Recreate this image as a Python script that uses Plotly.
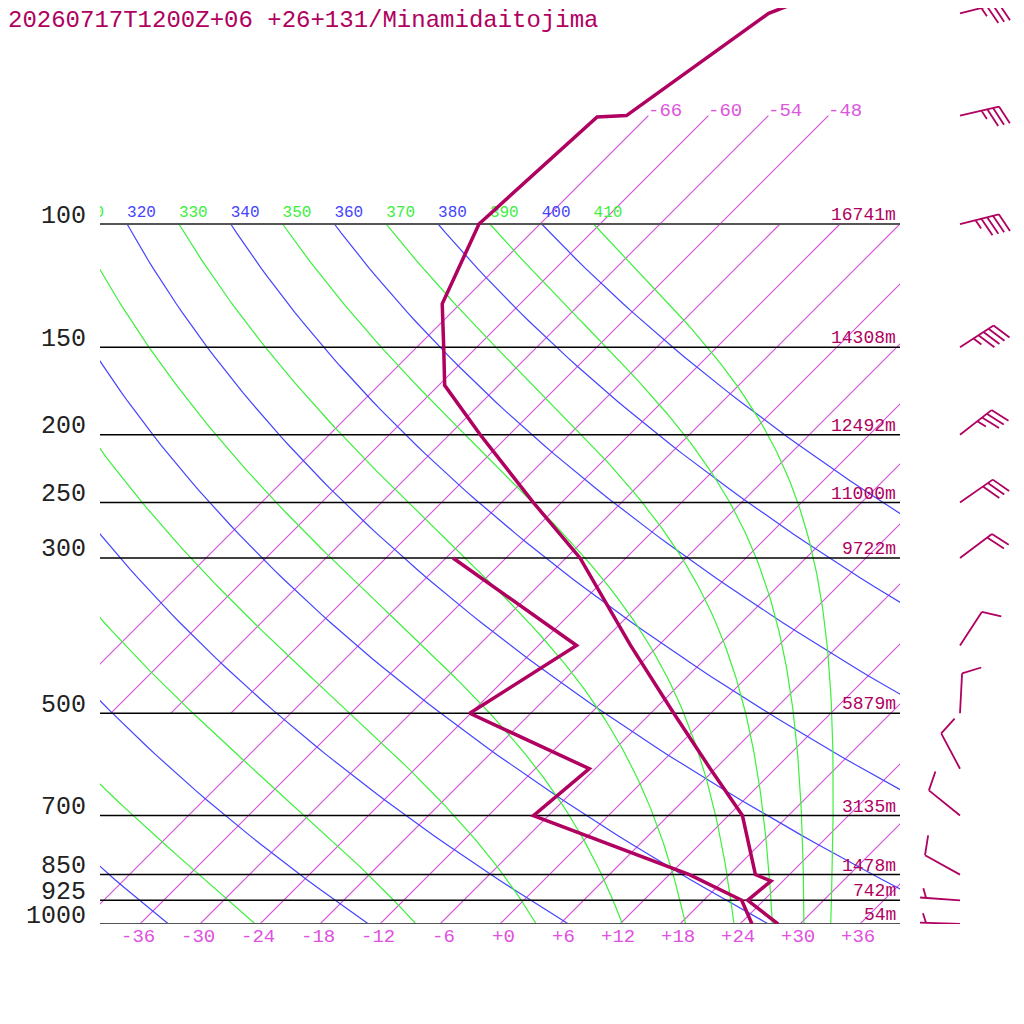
import numpy as np
import plotly.graph_objects as go

station = "20260717T1200Z+06 +26+131/Minamidaitojima"

# sounding: temperature (hPa, degC)
t_pres = [1000, 925, 868, 850, 700, 600, 500, 400, 300, 250, 200, 170, 150, 130, 100, 70.3, 70, 50, 40]
t_temp = [27.8, 22.4, 22.8, 20.6, 13.4, 5.5, -3.7, -14.8, -28.6, -38.8, -50.9, -59.4, -63.3, -67.8,
          -72.1, -71.0, -68.2, -64.2, -53.3]

# dew point
td_pres = [1000, 925, 850, 700, 600, 500, 400, 300]
td_temp = [25.2, 21.8, 14.0, -7.5, -6.6, -24.1, -20.2, -41.3]

# standard levels and geopotential heights
std_pres = [1000, 925, 850, 700, 500, 300, 250, 200, 150, 100]
std_hgt = [54, 742, 1478, 3135, 5879, 9722, 11000, 12492, 14308, 16741]

# winds (direction deg, speed kt)
wind_pres = [1000, 925, 850, 700, 600, 500, 400, 300, 250, 200, 150, 100, 70, 50]
wind_dir = [272, 274, 299, 309, 332, 3, 33, 53, 55, 52, 57, 76, 77, 76]
wind_spd = [5, 5, 10, 10, 10, 10, 10, 20, 30, 35, 45, 45, 35, 35]

# background lines
isotherms = list(range(-66, 37, 6))
dry_theta = list(range(240, 401, 20))
moist_theta = list(range(250, 411, 20))
label_theta = list(range(310, 411, 10))
temp_ticks = list(range(-36, 37, 6))

SKEW = 30.4          # degC shift per unit ln(1000/p) -> 45 deg isotherms
P_TOP = 1000 * np.exp(-916 / 304)
LINE = '#b00060'
ISO = 'rgb(214,78,218)'
BLUE = 'rgb(68,68,255)'
GREEN = 'rgb(60,240,60)'
FONT = 'Liberation Mono'

Rd, Rv, cp, Lv = 287.04, 461.5, 1005.7, 2.501e6
eps = Rd / Rv


def skew_x(t, p):
    return np.asarray(t, dtype=float) + SKEW * np.log(1000.0 / np.asarray(p, dtype=float))


def rsat(tk, p):
    tc = tk - 273.15
    e = 6.112 * np.exp(17.67 * tc / (tc + 243.5))
    return eps * e / (p - e)


def dtdlnp(tk, p):
    r = rsat(tk, p)
    return (Rd * tk + Lv * r) / (cp + Lv * Lv * r * eps / (Rd * tk * tk))


def moist_adiabat(theta, n=120):
    # start dry at 100 hPa, integrate the pseudo-adiabat down to 1000 hPa
    lnp = np.linspace(np.log(100.0), np.log(1000.0), n)
    h = lnp[1] - lnp[0]
    tk = theta * (0.1 ** (Rd / cp))
    out = [tk]
    for lp in lnp[:-1]:
        k1 = dtdlnp(tk, np.exp(lp))
        k2 = dtdlnp(tk + h * k1 / 2, np.exp(lp + h / 2))
        k3 = dtdlnp(tk + h * k2 / 2, np.exp(lp + h / 2))
        k4 = dtdlnp(tk + h * k3, np.exp(lp + h))
        tk = tk + h * (k1 + 2 * k2 + 2 * k3 + k4) / 6
        out.append(tk)
    return np.exp(lnp), np.array(out) - 273.15


def barb_path(direction, speed, length=40, full=20, half=10, gap=6, angle=-70):
    th = np.deg2rad(direction)
    ux, uy = np.sin(th), np.cos(th)
    a = np.deg2rad(angle)
    bx, by = ux * np.cos(a) - uy * np.sin(a), ux * np.sin(a) + uy * np.cos(a)
    path = f'M0,0 L{length * ux:.2f},{length * uy:.2f}'
    n_full, n_half = divmod(int(round(speed / 5)), 2)
    pos = length if n_full else length - gap
    for i in range(n_full + n_half):
        blen = full if i < n_full else half
        sx, sy = pos * ux, pos * uy
        path += f' M{sx:.2f},{sy:.2f} L{sx + blen * bx:.2f},{sy + blen * by:.2f}'
        pos -= gap
    return path


def joined(segments):
    xs, ys = [], []
    for x, y in segments:
        xs += [float(v) for v in x] + [None]
        ys += [float(v) for v in y] + [None]
    return xs, ys


fig = go.Figure()


def add_line(x, y, color, width):
    fig.add_trace(go.Scatter(x=x, y=y, mode='lines', line=dict(color=color, width=width),
                             hoverinfo='skip', showlegend=False, connectgaps=False))


# isotherms
segs = []
for t in isotherms:
    pp = np.geomspace(500, 70, 12) if t <= -48 else np.geomspace(1000, 100, 12)
    segs.append((skew_x(np.full(pp.size, t), pp), pp))
add_line(*joined(segs), ISO, 1.1)

# dry adiabats
pd_ = np.geomspace(1000, 100, 80)
segs = [(skew_x(th * (pd_ / 1000) ** (Rd / cp) - 273.15, pd_), pd_) for th in dry_theta]
add_line(*joined(segs), BLUE, 1.2)

# moist adiabats
segs = []
for th in moist_theta:
    pm, tm = moist_adiabat(th)
    segs.append((skew_x(tm, pm), pm))
add_line(*joined(segs), GREEN, 1.2)

# theta labels at 100 hPa
fig.add_trace(go.Scatter(
    x=skew_x([th * 0.1 ** (Rd / cp) - 273.15 for th in label_theta], [100] * len(label_theta)),
    y=[99.0] * len(label_theta), mode='text', text=[str(th) for th in label_theta],
    textposition='top right', cliponaxis=True, hoverinfo='skip', showlegend=False,
    textfont=dict(family=FONT, size=16,
                  color=[BLUE if th in dry_theta else GREEN for th in label_theta])))

# pressure lines
for p in std_pres:
    edge = p in (100, 1000)
    add_line([-40, 40], [p, p], '#555555' if edge else 'black', 2 if edge else 1.5)

# profile
add_line(skew_x(td_temp, td_pres), td_pres, LINE, 3.5)
add_line(skew_x(t_temp, t_pres), t_pres, LINE, 3.5)

ann = []
# title
ann.append(dict(text=station, xref='paper', yref='paper', x=0, y=1, xanchor='left', yanchor='top',
                xshift=-94, yshift=3, showarrow=False, font=dict(family=FONT, size=24, color=LINE)))
# pressure labels
for p in std_pres:
    ann.append(dict(text=str(p), xref='paper', yref='y', x=0, y=np.log10(p), xanchor='right',
                    yanchor='middle', xshift=-12, yshift=8, showarrow=False,
                    font=dict(family=FONT, size=25, color='#222222')))
# heights
for p, h in zip(std_pres, std_hgt):
    ann.append(dict(text=f'{h}m', xref='paper', yref='y', x=1, y=np.log10(p), xanchor='right',
                    yanchor='bottom', xshift=-2, yshift=-3, showarrow=False,
                    font=dict(family=FONT, size=18, color=LINE)))
# temperature ticks
for t in temp_ticks:
    ann.append(dict(text=f'{t:+d}', xref='x', yref='paper', x=t, y=0, xanchor='right',
                    yanchor='top', xshift=17, yshift=0, showarrow=False,
                    font=dict(family=FONT, size=19, color='#e050e0')))
# isotherm labels at the top
for t in isotherms:
    if t <= -48:
        ann.append(dict(text=str(t), xref='x', yref='y', x=float(skew_x(t, 70)), y=np.log10(70),
                        xanchor='left', yanchor='middle', yshift=5, xshift=-2, showarrow=False,
                        font=dict(family=FONT, size=19, color='#dd55dd')))

# wind barbs
shapes = []
for p, d, s in zip(wind_pres, wind_dir, wind_spd):
    shapes.append(dict(type='path', xref='paper', yref='y', xsizemode='pixel', ysizemode='pixel',
                       xanchor=1.075, yanchor=p, path=barb_path(d, s),
                       line=dict(color=LINE, width=1.8)))

fig.update_layout(
    width=1024, height=1024, margin=dict(l=92, r=132, t=0, b=108),
    plot_bgcolor='white', paper_bgcolor='white', showlegend=False,
    xaxis=dict(range=[-40, 40], visible=False, showgrid=False, zeroline=False),
    yaxis=dict(type='log', range=[3, np.log10(P_TOP)], visible=False, showgrid=False, zeroline=False),
    annotations=ann, shapes=shapes)

fig.write_html("out.html")
